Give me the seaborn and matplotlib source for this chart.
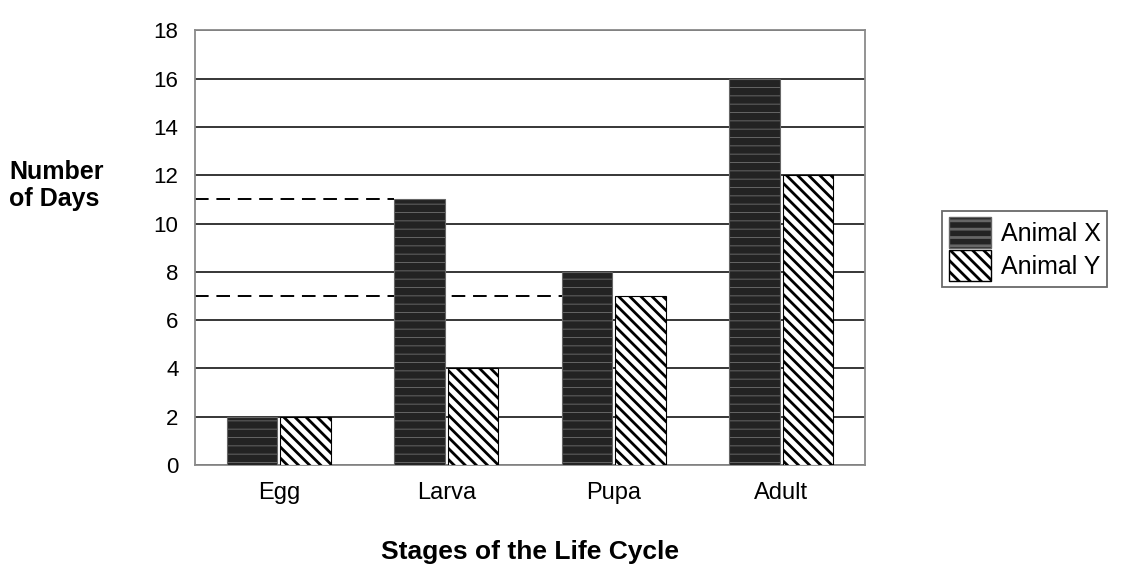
import pandas as pd
import seaborn as sns
import matplotlib.pyplot as plt
from matplotlib.patches import Patch

sns.set_style("white")
plt.rcParams['font.family'] = ['Liberation Sans', 'DejaVu Sans']
plt.rcParams['hatch.linewidth'] = 2.0
for key in ['text.color', 'axes.labelcolor', 'xtick.color', 'ytick.color']:
    plt.rcParams[key] = 'black'

# data
stages = ['Egg', 'Larva', 'Pupa', 'Adult']
animal_x = [2, 11, 8, 16]
animal_y = [2, 4, 7, 12]
series = ['Animal X', 'Animal Y']

# dashed guide lines: (value, stage whose Animal X bar they run to)
guide_values = [11, 7]
guide_stages = ['Larva', 'Pupa']

df = pd.DataFrame({'Stage': stages * 2,
                   'Animal': [series[0]] * 4 + [series[1]] * 4,
                   'Days': animal_x + animal_y})

dark = '#232323'
fig = plt.figure(figsize=(11.41, 5.70), dpi=100)
ax = fig.add_axes([0.171, 0.184, 0.587, 0.763])

sns.barplot(data=df, x='Stage', y='Days', hue='Animal', order=stages,
            hue_order=series, palette=[dark, 'white'],
            width=0.64, gap=0.06, edgecolor='black', linewidth=0.8,
            legend=False, ax=ax, zorder=3)

# streaky dark bars, thick diagonal hatch on light bars
for bar in ax.containers[0]:
    bar.set_hatch('--')
    bar.set_edgecolor('#666666')
    if hasattr(bar, 'set_hatch_linewidth'):
        bar.set_hatch_linewidth(0.7)
for bar in ax.containers[1]:
    bar.set_hatch('\\\\\\')
    bar.set_edgecolor('black')

ax.set_xlim(-0.5, len(stages) - 0.5)
ax.set_ylim(0, 18)
ax.set_yticks(range(0, 19, 2))
ax.yaxis.grid(True, color='black', linewidth=1.1, zorder=0)
ax.set_axisbelow(True)
for s in ax.spines.values():
    s.set_color('#8a8a8a')
    s.set_linewidth(1.3)

ax.tick_params(axis='y', labelsize=16, length=0, pad=12)
ax.tick_params(axis='x', labelsize=17, length=0, pad=12)
ax.set_xlabel('Stages of the Life Cycle', fontsize=19, fontweight='bold', labelpad=26)
ax.set_ylabel('')
fig.text(0.008, 0.675, 'Number\nof Days', fontsize=18, fontweight='bold',
         ha='left', va='center', linespacing=1.15)

# dashed guides from y-axis to the Animal X bars (pass behind bars)
x0 = ax.get_xlim()[0]
for val, st in zip(guide_values, guide_stages):
    bar = ax.containers[0][stages.index(st)]
    ax.hlines(val, x0, bar.get_x(), colors='black', linestyles=(0, (7, 4)),
              linewidth=1.4, zorder=2.5)
ax.set_xlim(-0.5, len(stages) - 0.5)

# legend
handles = [Patch(facecolor=dark, edgecolor='#666666', hatch='--'),
           Patch(facecolor='white', edgecolor='black', hatch='\\\\\\')]
leg = fig.legend(handles, series, loc='upper left', bbox_to_anchor=(0.826, 0.63),
                 fontsize=18, frameon=True, fancybox=False, handlelength=1.7,
                 handleheight=1.5, handletextpad=0.4, borderpad=0.25,
                 labelspacing=0.1, borderaxespad=0, edgecolor='#444444')
leg.get_frame().set_linewidth(1.3)

fig.savefig('out.png', dpi=100)
